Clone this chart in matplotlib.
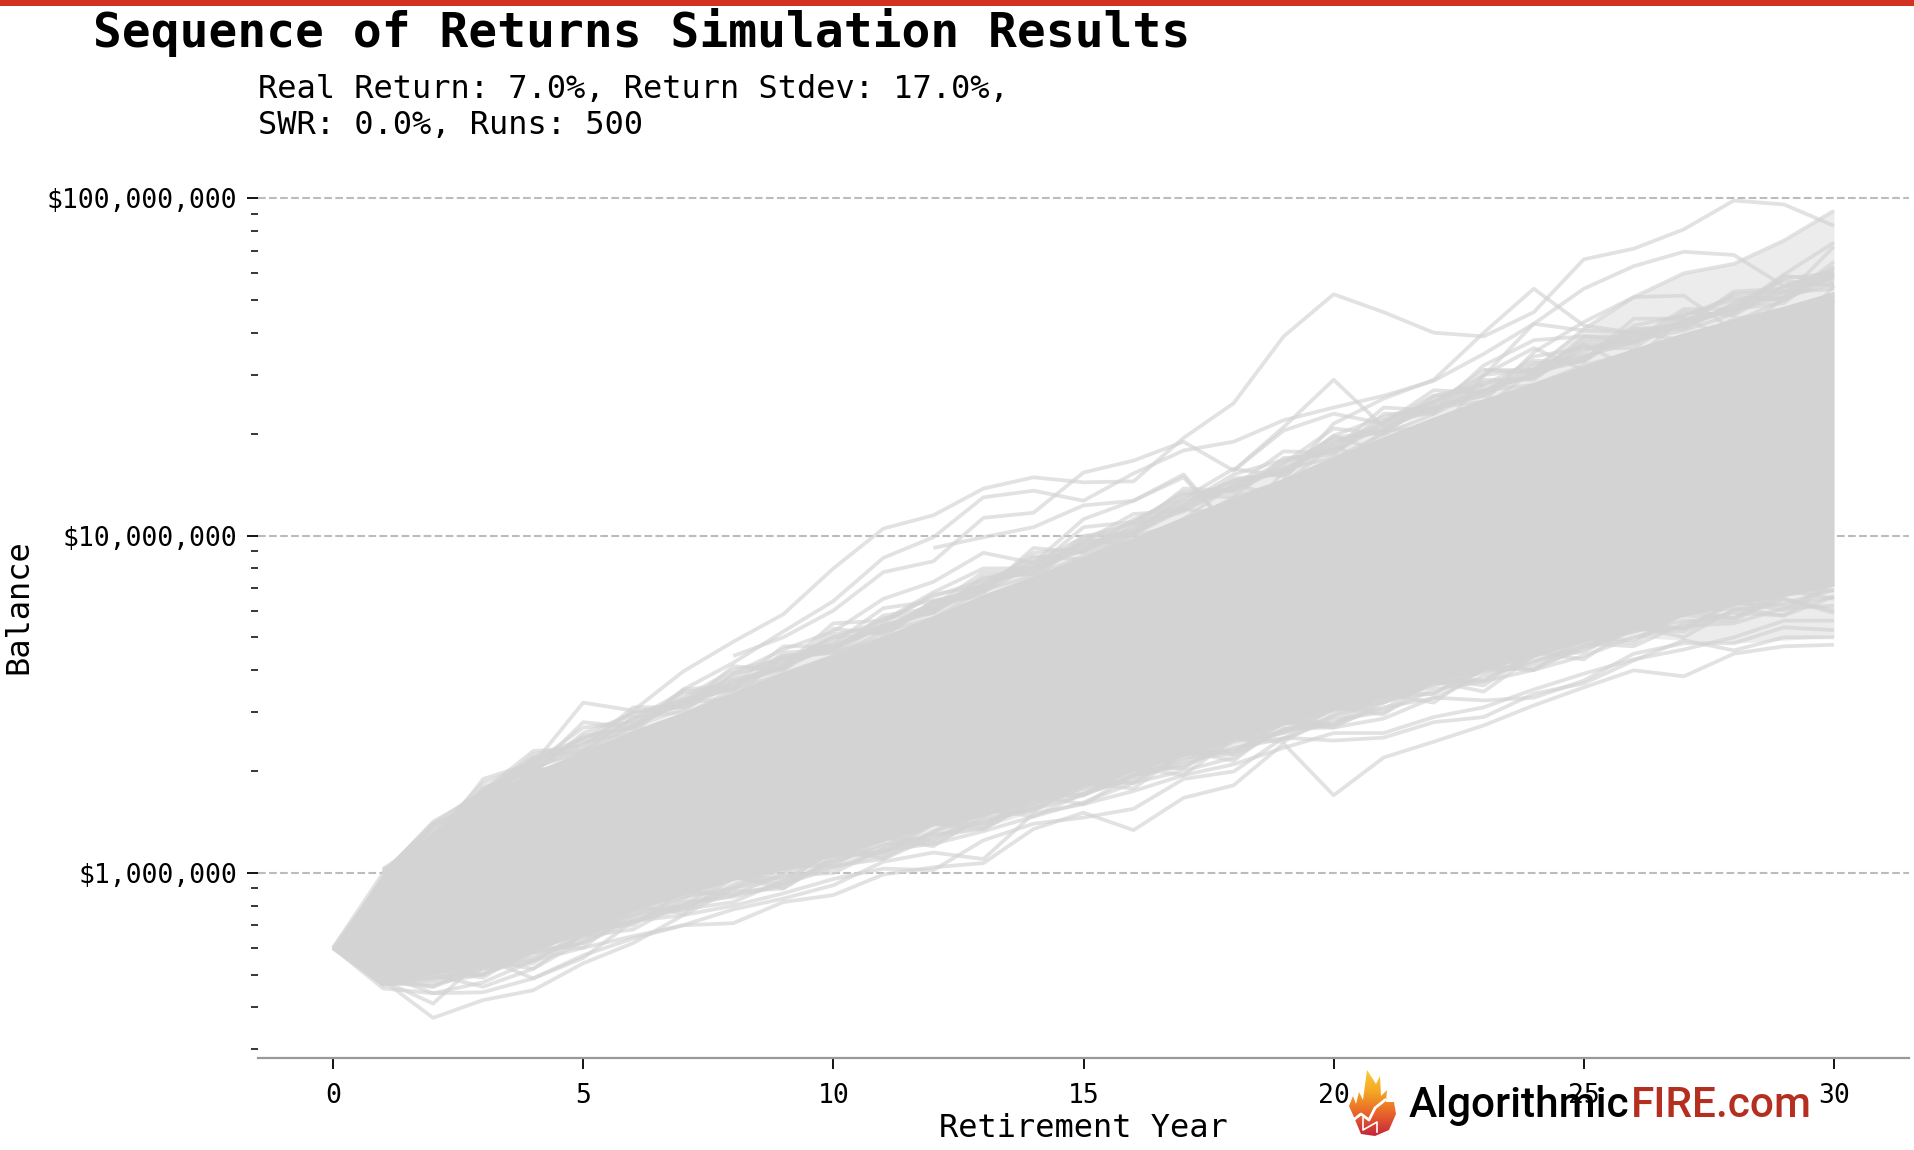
import numpy as np
import matplotlib
matplotlib.use("Agg")
import matplotlib.pyplot as plt
from matplotlib.patches import PathPatch, Rectangle
from matplotlib.path import Path
from matplotlib.ticker import FuncFormatter, LogLocator, NullFormatter

MONO = "DejaVu Sans Mono"
W, H = 1914, 1150

years = list(range(31))

# solid part of the bundle, where the 500 runs overlap completely
core_top = [0.6, 1.0, 1.3, 1.68, 2.0, 2.3, 2.65, 3.0, 3.45, 3.95, 4.45, 5.05, 5.8, 6.7, 7.6, 8.7,
            9.9, 11.4, 13, 14.8, 17.2, 19.7, 22.5, 25.5, 28.5, 32, 36, 40, 44, 48, 53]
core_low = [0.6, 0.475, 0.5, 0.53, 0.58, 0.67, 0.77, 0.86, 0.95, 1.02, 1.12, 1.24, 1.38, 1.47, 1.64, 1.81,
            2.0, 2.22, 2.46, 2.74, 3.02, 3.3, 3.67, 4.0, 4.37, 4.84, 5.3, 5.77, 6.2, 6.6, 7.1]

# pale shaded band behind the runs
band_top = [0.6, 1.0, 1.3, 1.7, 2.0, 2.3, 2.7, 3.0, 3.5, 4.1, 4.7, 5.4, 6.3, 7.2, 8.0, 9.1,
            10.4, 12, 13.8, 15.6, 18, 20.5, 23, 27, 32, 41, 51, 60, 64, 75, 92]
band_low = [0.6, 0.46, 0.48, 0.50, 0.55, 0.63, 0.72, 0.80, 0.88, 0.95, 1.03, 1.12, 1.25, 1.36, 1.52, 1.7,
            1.9, 2.1, 2.35, 2.6, 2.9, 3.2, 3.55, 3.9, 4.2, 4.6, 5.0, 4.9, 4.8, 4.9, 5.0]

# individual runs visible above the bundle: (first visible year, balances)
top_a = (0, [0.6, 1.0, 1.4, 1.75, 2.1, 3.2, 3.03, 3.96, 4.85, 5.85, 8.0, 10.5, 11.5, 13.8, 14.9, 14.4,
             14.5, 19.5, 24.7, 39, 52, 46, 40, 39, 46, 66, 71, 81, 98.6, 96, 83])
top_b = (0, [0.6, 0.95, 1.3, 1.6, 2.0, 2.8, 2.7, 3.5, 4.2, 5.2, 6.4, 8.6, 9.9, 13, 13.6, 12.7,
             15.3, 17.9, 19, 22, 24, 26, 28.8, 34.6, 42.5, 54, 63, 69.5, 68, 55, 60])
top_c = (12, [9.2, 9.9, 10.6, 12.3, 12.7, 14.9, 10.2, 14.6, 21.5, 25.5, 29, 40, 54, 42, 40, 38, 43, 50, 59])
top_d = (20, [15.6, 19, 22, 24, 31, 41, 51, 60, 64, 75, 92])
top_e = (18, [15.6, 21, 29, 21, 24, 25, 35, 43, 51, 51.5, 40.6, 35.4, 50])
top_f = (21, [22, 25, 29.8, 42.5, 40.6, 40, 42, 47, 59.5, 74])
top_g = (22, [23.5, 32, 38, 39, 38, 40.6, 45.5, 58, 60])
top_h = (22, [19, 30, 36, 31, 33.5, 44, 38, 51, 72])
top_i = (23, [31, 31, 37, 31, 36, 35, 43, 50])
top_j = (8, [4.4, 5.0, 6.0, 7.8, 8.4, 11.3, 11.7, 15.4, 16.7, 19, 15.6, 20.5, 23, 21.5, 26, 28])
top_k = (7, [3.2, 3.9, 4.6, 5.2, 6.5, 7.3, 8.9, 8.3, 11.2, 12.7, 15.2, 10.2, 15.6, 19.8, 17.6, 20.5])
top_l = (9, [4.2, 5.0, 5.6, 6.8, 8.0, 8.0, 9.6, 11.0, 13.3, 13.7, 15.8, 17, 20, 23, 27, 28, 32, 35, 37, 44, 46, 52])
top_m = (3, [1.75, 2.2, 2.5, 3.0, 3.1, 3.7, 4.1, 4.7, 5.4, 5.9, 7.2, 8.7, 8.5, 10.1, 12.0, 11.5, 14.3, 18.5,
             15.8, 18.2, 22, 24, 27.5, 34, 32, 36, 38, 55])
top_n = (1, [1.02, 1.25, 1.7, 2.05, 2.3, 2.75, 3.2, 3.3, 4.4, 4.5, 5.0, 6.4, 6.6, 7.4, 9.8, 9.3, 11.2, 14.2,
             13.0, 16.5, 19, 19.5, 24.5, 25, 30, 30, 39, 41, 40, 46])
top_o = (2, [1.3, 1.55, 2.0, 2.15, 2.6, 2.95, 3.5, 3.9, 4.4, 5.2, 5.7, 6.9, 7.6, 8.7, 10.0, 10.8, 13, 14.5,
             15.8, 20.5, 21, 22, 27, 29])

# runs along the upper edge of the solid part, from year 1
edge_a = (1, [1.0, 1.4, 1.6, 2.2, 2.3, 2.9, 3.0, 3.9, 4.2, 5.0, 5.2, 6.4, 6.9, 8.6, 9.0, 11.2, 12.8, 14.5, 15.5,
              19, 20.5, 25, 28, 33, 33, 42, 45, 50, 51, 60])
edge_b = (1, [1.02, 1.2, 1.8, 2.0, 2.55, 2.7, 3.4, 3.5, 4.5, 4.6, 5.7, 5.9, 7.6, 7.7, 10, 10.2, 13.2, 13, 17,
              17.4, 23, 23, 29, 29, 37, 37, 46, 45, 55, 56])
edge_c = (1, [0.98, 1.35, 1.7, 2.25, 2.4, 3.0, 3.2, 3.75, 4.05, 5.1, 5.4, 6.0, 7.3, 8.1, 9.3, 10.8, 12.1, 14.8,
              15.2, 18.5, 22, 24, 26, 32, 34, 39, 43, 52, 53, 58])
edge_d = (1, [1.0, 1.3, 1.85, 2.1, 2.7, 2.8, 3.3, 4.0, 4.3, 4.8, 6.1, 6.4, 7.0, 8.9, 9.2, 10.5, 13.8, 13.6, 16.2,
              19.5, 20.5, 26, 27, 30, 38, 38, 47, 47, 49, 63])
edge_e = (1, [0.96, 1.38, 1.65, 2.15, 2.45, 2.6, 3.5, 3.6, 4.7, 4.7, 5.5, 6.7, 7.1, 8.0, 10.6, 11.0, 12.4, 15.2,
              16.8, 18, 24, 23.5, 30, 31, 35, 41, 41, 49, 57, 55])
edge_f = (1, [1.03, 1.28, 1.75, 2.3, 2.35, 3.1, 3.1, 4.1, 4.0, 5.3, 5.1, 6.2, 7.8, 7.8, 9.6, 11.6, 11.9, 14.0,
              17.8, 17.6, 21.5, 27, 26.5, 34, 36, 36, 45, 51, 50, 65])
edge_g = (1, [0.99, 1.42, 1.72, 1.98, 2.6, 2.95, 3.25, 3.8, 4.4, 4.55, 5.8, 6.1, 6.8, 9.2, 8.9, 10.3, 12.9, 15.8,
              15, 19.8, 22.5, 24.5, 31, 30.5, 33, 44, 44, 46, 59, 57])
edge_h = (1, [1.01, 1.22, 1.9, 2.12, 2.5, 2.85, 3.45, 3.55, 4.1, 5.5, 5.6, 6.6, 7.4, 8.3, 9.9, 10.9, 13.5, 13.4,
              16.4, 20.8, 20, 25.5, 28.5, 29.5, 39, 39, 42, 53, 54, 62])
edge_i = (1, [1.0, 1.32, 1.62, 2.08, 2.28, 2.72, 3.05, 3.62, 4.15, 4.65, 5.35, 6.05, 7.2, 7.9, 9.1, 10.2, 12.2,
              13.9, 15.9, 18.1, 20.8, 23.7, 27, 30, 34, 37.5, 42.5, 47, 51, 56])
edge_j = (1, [0.97, 1.25, 1.78, 2.02, 2.42, 2.78, 3.15, 3.7, 4.0, 4.9, 5.25, 6.25, 6.95, 8.4, 9.0, 10.7, 11.8,
              14.3, 15.6, 18.8, 21.2, 24.2, 26, 31, 33.5, 40, 41.5, 48.5, 52.5, 54])
edge_k = (1, [1.0, 1.36, 1.68, 2.18, 2.32, 2.88, 3.18, 3.55, 4.35, 4.5, 5.45, 6.0, 7.5, 7.7, 9.4, 10.4, 12.6, 14,
              16.6, 17.9, 21.8, 23.2, 27.8, 29.5, 36, 37.5, 43.5, 46.5, 53, 59])
edge_l = (1, [1.01, 1.27, 1.7, 2.06, 2.52, 2.68, 3.28, 3.48, 4.25, 4.75, 5.3, 6.35, 6.8, 8.2, 9.5, 10.1, 12.3,
              14.6, 15.4, 19.2, 20.3, 24.8, 26.6, 32.5, 32.8, 41, 42, 48, 55, 61])
upper_runs = [top_a, top_b, top_c, top_d, top_e, top_f, top_g, top_h, top_i, top_j, top_k, top_l, top_m,
              top_n, top_o, edge_a, edge_b, edge_c, edge_d, edge_e, edge_f, edge_g, edge_h, edge_i, edge_j,
              edge_k, edge_l]

# individual runs visible below the bundle
low_a = [0.6, 0.455, 0.44, 0.443, 0.487, 0.57, 0.64, 0.70, 0.71, 0.82, 0.86, 0.99, 1.04, 1.07, 1.35, 1.51,
         1.34, 1.67, 1.82, 2.42, 1.7, 2.2, 2.45, 2.74, 3.14, 3.55, 3.99, 3.83, 4.47, 4.7, 4.75]
low_b = [0.6, 0.48, 0.372, 0.42, 0.449, 0.54, 0.62, 0.75, 0.80, 0.87, 0.96, 1.03, 1.02, 1.25, 1.4, 1.46,
         1.55, 1.9, 2.0, 2.52, 2.47, 2.52, 2.8, 2.9, 3.4, 3.65, 4.27, 4.9, 4.57, 5.0, 5.0]
low_c = [0.6, 0.48, 0.41, 0.56, 0.487, 0.56, 0.72, 0.79, 0.86, 0.93, 1.03, 1.17, 1.22, 1.33, 1.47, 1.62,
         1.85, 2.01, 2.2, 2.68, 2.7, 2.87, 3.31, 3.25, 3.31, 3.72, 4.47, 4.8, 4.8, 5.35, 5.25]
low_d = [0.6, 0.5, 0.44, 0.474, 0.55, 0.60, 0.65, 0.70, 0.78, 0.84, 0.92, 1.08, 1.15, 1.1, 1.5, 1.6,
         1.75, 1.95, 2.1, 2.35, 2.6, 2.6, 2.9, 3.1, 3.5, 3.9, 4.3, 4.6, 5.0, 5.6, 5.6]
low_e = [0.6, 0.5, 0.525, 0.5, 0.6, 0.66, 0.72, 0.78, 0.82, 0.95, 1.05, 1.1, 1.28, 1.42, 1.55, 1.7,
         1.95, 2.1, 2.35, 2.5, 2.85, 3.0, 3.5, 3.7, 4.0, 4.4, 5.0, 5.4, 5.5, 6.1, 6.2]
low_f = [0.6, 0.49, 0.46, 0.52, 0.58, 0.62, 0.72, 0.75, 0.9, 0.98, 1.0, 1.18, 1.3, 1.35, 1.65, 1.72,
         1.9, 2.2, 2.25, 2.65, 2.75, 3.1, 3.3, 3.85, 4.2, 4.8, 4.7, 5.5, 5.9, 5.8, 6.6]
low_g = [0.6, 0.49, 0.48, 0.53, 0.55, 0.65, 0.68, 0.82, 0.85, 0.92, 1.08, 1.22, 1.23, 1.45, 1.55, 1.8,
         2.0, 2.05, 2.45, 2.6, 2.9, 3.3, 3.4, 4.0, 4.1, 4.6, 5.3, 5.2, 6.0, 6.3, 6.9]
low_h = [0.6, 0.47, 0.5, 0.46, 0.52, 0.66, 0.76, 0.8, 0.88, 0.9, 1.12, 1.15, 1.32, 1.5, 1.6, 1.85,
         1.85, 2.25, 2.3, 2.8, 2.7, 3.2, 3.65, 3.75, 4.4, 4.9, 5.2, 5.8, 5.7, 6.5, 6.0]
low_i = [0.6, 0.47, 0.47, 0.5, 0.58, 0.62, 0.74, 0.8, 0.98, 0.96, 1.15, 1.12, 1.4, 1.38, 1.7, 1.7,
         2.05, 2.05, 2.55, 2.5, 3.1, 3.05, 3.8, 3.7, 4.5, 4.5, 5.5, 5.3, 6.4, 6.0, 7.3]
low_j = [0.6, 0.48, 0.51, 0.49, 0.6, 0.6, 0.78, 0.78, 0.92, 1.05, 1.05, 1.28, 1.25, 1.52, 1.52, 1.88,
         1.85, 2.3, 2.25, 2.85, 2.78, 3.4, 3.4, 4.15, 4.0, 5.0, 4.9, 6.0, 5.7, 6.9, 6.5]
low_k = [0.6, 0.465, 0.49, 0.52, 0.54, 0.68, 0.7, 0.88, 0.86, 1.0, 1.15, 1.15, 1.42, 1.4, 1.58, 1.85,
         1.78, 2.28, 2.3, 2.65, 3.1, 2.95, 3.75, 3.6, 4.5, 4.3, 5.4, 5.3, 6.3, 6.2, 6.6]
low_l = [0.6, 0.475, 0.46, 0.55, 0.52, 0.63, 0.8, 0.76, 0.97, 0.93, 1.18, 1.1, 1.33, 1.55, 1.47, 1.72,
         2.05, 1.95, 2.5, 2.45, 2.95, 3.4, 3.2, 4.05, 4.0, 4.7, 5.4, 5.0, 6.05, 6.5, 5.9]
low_m = [0.6, 0.48, 0.49, 0.5, 0.6, 0.7, 0.71, 0.84, 0.98, 0.9, 1.1, 1.27, 1.2, 1.48, 1.7, 1.6,
         1.95, 2.3, 2.15, 2.8, 2.75, 3.25, 3.7, 3.45, 4.4, 4.95, 4.8, 5.9, 6.1, 5.8, 7.2]
low_n = [0.6, 0.47, 0.52, 0.53, 0.56, 0.65, 0.75, 0.85, 0.9, 1.03, 1.08, 1.2, 1.4, 1.35, 1.62, 1.78,
         1.95, 2.15, 2.5, 2.6, 3.05, 3.2, 3.6, 3.95, 4.25, 4.7, 5.2, 5.6, 5.6, 6.7, 6.9]
lower_runs = [low_a, low_b, low_c, low_d, low_e, low_f, low_g, low_h, low_i, low_j, low_k, low_l, low_m, low_n]

x_ticks = [0, 5, 10, 15, 20, 25, 30]
y_ticks = [1e6, 1e7, 1e8]


def millions(values):
    return np.array(values, dtype=float) * 1e6


def px_rect(left, top, right, bottom):
    """figure fraction rectangle from pixel edges"""
    return [left / W, 1 - bottom / H, (right - left) / W, (bottom - top) / H]


def add_logo(fig):
    # flame with vertical gradient, clipped to its outline
    ax = fig.add_axes(px_rect(1343, 1070, 1397, 1136))
    ax.set_xlim(0, 54)
    ax.set_ylim(66, 0)
    ax.axis("off")
    grad = np.linspace(0, 1, 100).reshape(-1, 1)
    cmap = matplotlib.colors.LinearSegmentedColormap.from_list(
        "flame", ["#F9C93A", "#F5A623", "#E8622C", "#C4263A"])
    img = ax.imshow(grad, extent=[0, 54, 66, 0], aspect="auto", cmap=cmap)
    outline = Path(
        [(10, 45), (6, 36), (10, 26), (13, 34), (16, 22), (20, 30), (24, 0), (33, 14), (37, 6), (38, 26),
         (44, 20), (43, 32), (51, 32), (53, 44), (46, 60), (32, 66), (18, 64), (10, 45)],
        closed=True)
    patch = PathPatch(outline, transform=ax.transData, fc="none", ec="none")
    ax.add_patch(patch)
    img.set_clip_path(patch)
    ax.plot([0, 18, 26, 32, 42], [58, 44, 50, 38, 30], color="white", lw=2)
    ax.plot([20, 20, 34, 34], [48, 60, 52, 62], color="white", lw=1.2)

    font = ["Roboto", "DejaVu Sans"]
    fig.text(1409 / W, 1 - 1117 / H, "Algorithmic", family=font, weight="medium", fontsize=30.5,
             color="black", va="baseline")
    fig.text(1631 / W, 1 - 1117 / H, "FIRE.com", family=font, weight="medium", fontsize=30.5,
             color="#B52F20", va="baseline")


def main():
    fig = plt.figure(figsize=(W / 100, H / 100), dpi=100, facecolor="white")
    ax = fig.add_axes(px_rect(258, 158, 1909, 1058))

    ax.fill_between(years, millions(band_low), millions(band_top), color="lightgray", alpha=0.42, lw=0, zorder=2)
    ax.fill_between(years, millions(core_low), millions(core_top), color="lightgray", lw=0, zorder=3)

    line_style = dict(color="lightgray", alpha=0.65, lw=2.7, zorder=4, solid_capstyle="butt")
    for first_year, values in upper_runs:
        ax.plot(years[first_year:first_year + len(values)], millions(values), **line_style)
    for values in lower_runs:
        ax.plot(years, millions(values), **line_style)

    ax.set_yscale("log")
    ax.set_xlim(-1.5, 31.5)
    ax.set_ylim(10 ** 5.4515, 10 ** 8.12)

    ax.set_xticks(x_ticks)
    ax.set_yticks(y_ticks)
    ax.yaxis.set_minor_locator(LogLocator(base=10, subs=np.arange(2, 10), numticks=12))
    ax.yaxis.set_minor_formatter(NullFormatter())
    ax.yaxis.set_major_formatter(FuncFormatter(lambda v, _: f"${v:,.0f}"))
    ax.tick_params(axis="both", which="major", labelsize=19, length=8, width=1.3, pad=7)
    ax.tick_params(axis="x", pad=10)
    ax.tick_params(axis="y", which="minor", length=5, width=1.1)
    for label in ax.get_xticklabels() + ax.get_yticklabels():
        label.set_family(MONO)

    ax.grid(True, axis="y", which="major", color="#B9BDC1", ls="--", lw=1.5, zorder=1)
    ax.grid(False, axis="x")
    ax.set_axisbelow(True)
    for side in ["top", "right", "left"]:
        ax.spines[side].set_visible(False)
    ax.spines["bottom"].set_color("#999999")
    ax.spines["bottom"].set_linewidth(1.6)

    ax.set_xlabel("Retirement Year", family=MONO, fontsize=23, labelpad=3)
    fig.text(19 / W, 1 - 607 / H, "Balance", family=MONO, fontsize=23, rotation=90, ha="center", va="center")

    # red strip along the top edge
    fig.add_artist(Rectangle((0, 1 - 6 / H), 1, 6 / H, transform=fig.transFigure, color="#D33222", lw=0))

    fig.text(93 / W, 1 - 47 / H, "Sequence of Returns Simulation Results", family=MONO, weight="bold",
             fontsize=34.5, va="baseline")
    fig.text(258 / W, 1 - 98 / H, "Real Return: 7.0%, Return Stdev: 17.0%,", family=MONO, fontsize=23,
             va="baseline")
    fig.text(258 / W, 1 - 134 / H, "SWR: 0.0%, Runs: 500", family=MONO, fontsize=23, va="baseline")

    add_logo(fig)
    fig.savefig("out.png", dpi=100)


if __name__ == "__main__":
    main()
